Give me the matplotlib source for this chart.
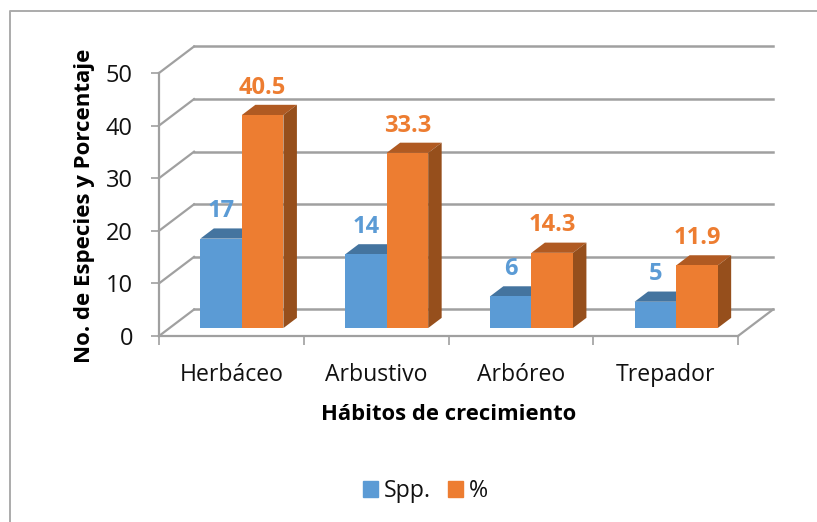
import matplotlib
matplotlib.use('Agg')
import matplotlib.pyplot as plt
from matplotlib.lines import Line2D
from matplotlib.patches import Patch
import numpy as np

# Data
categories = ['Herbáceo', 'Arbustivo', 'Arbóreo', 'Trepador']
spp = [17, 14, 6, 5]
pct = [40.5, 33.3, 14.3, 11.9]
spp_labels = ['17', '14', '6', '5']
pct_labels = ['40.5', '33.3', '14.3', '11.9']
yticks = [0, 10, 20, 30, 40, 50]

W, H = 817, 522
GRID = '#a0a0a0'
BLUE, BLUE_TOP = '#5b9bd5', '#44749f'
ORANGE, ORANGE_TOP, ORANGE_SIDE = '#ed7d31', '#b05a22', '#964f1c'

# Fake 3D: depth of the chart box, in data units
DX, DY = 0.242, 5.04
BAR_W = 0.287
D0, D1 = 0.30, 0.685  # front and back of the bars, as a share of the depth

plt.rcParams['font.family'] = ['Open Sans', 'DejaVu Sans']
fig = plt.figure(figsize=(W / 100, H / 100), dpi=100)
ax = fig.add_axes([159 / W, 1 - 336 / H, (738 - 159) / W, (336 - 73) / H])
ax.set_xlim(-0.5, 3.5)
ax.set_ylim(0, 50)
ax.patch.set_visible(False)

# outer frame of the chart: only the left and top edges show
fig.add_artist(Line2D([9.5 / W, 9.5 / W, 1], [0, 1 - 10.5 / H, 1 - 10.5 / H], transform=fig.transFigure,
                      color='#ababab', lw=1.4))

for s in ['top', 'right']:
    ax.spines[s].set_visible(False)
for s in ['left', 'bottom']:
    ax.spines[s].set_color(GRID)
    ax.spines[s].set_linewidth(1.6)

# back wall lines and the diagonals joining them to the front axis
for t in yticks:
    ax.plot([-0.5 + DX, 3.5 + DX], [t + DY, t + DY], color=GRID, lw=1.8, clip_on=False, zorder=1)
    ax.plot([-0.5, -0.5 + DX], [t, t + DY], color=GRID, lw=1.6, clip_on=False, zorder=1)
ax.plot([3.5, 3.5 + DX], [0, DY], color=GRID, lw=1.6, clip_on=False, zorder=1)


def draw_bar(x, v, face, top, side, z):
    x0 = x + D0 * DX
    y0 = D0 * DY
    ddx = (D1 - D0) * DX
    ddy = (D1 - D0) * DY
    ax.bar(x0, v, BAR_W, bottom=y0, align='edge', color=face, zorder=z + 0.2, clip_on=False)
    ax.fill([x0, x0 + BAR_W, x0 + BAR_W + ddx, x0 + ddx],
            [y0 + v, y0 + v, y0 + v + ddy, y0 + v + ddy], color=top, lw=0, zorder=z, clip_on=False)
    if side:
        ax.fill([x0 + BAR_W, x0 + BAR_W + ddx, x0 + BAR_W + ddx, x0 + BAR_W],
                [y0, y0 + ddy, y0 + v + ddy, y0 + v], color=side, lw=0, zorder=z, clip_on=False)


pos = np.arange(len(categories))
for i in pos:
    draw_bar(i - BAR_W, spp[i], BLUE, BLUE_TOP, None, 3)
    draw_bar(i, pct[i], ORANGE, ORANGE_TOP, ORANGE_SIDE, 4)
    ax.text(i - BAR_W / 2 + D0 * DX, D0 * DY + spp[i] + 5.2, spp_labels[i], color=BLUE,
            ha='center', va='center', fontsize=17, fontweight='bold', zorder=6)
    ax.text(i + BAR_W / 2 + D0 * DX, D0 * DY + pct[i] + 5.2, pct_labels[i], color=ORANGE,
            ha='center', va='center', fontsize=17, fontweight='bold', zorder=6)

# ticks on the category boundaries, names in between
ax.set_xticks(np.arange(-0.5, 4, 1))
ax.set_xticklabels([])
ax.set_xticks(pos, minor=True)
ax.set_xticklabels(categories, minor=True, fontsize=16.6, color='#111111')
ax.tick_params(axis='x', which='major', length=6.5, width=1.2, color=GRID)
ax.tick_params(axis='x', which='minor', length=0, pad=19.5)
ax.set_yticks(yticks)
ax.tick_params(axis='y', length=5.8, width=1.2, color=GRID, labelsize=17, labelcolor='#111111', pad=13)

ax.set_xlabel('Hábitos de crecimiento', fontsize=15.8, fontweight='bold')
ax.xaxis.set_label_coords((449 - 159) / (738 - 159), -(414 - 336) / (336 - 73), transform=ax.transAxes)
ax.xaxis.label.set_va('center')
ax.set_ylabel('No. de Especies y Porcentaje', fontsize=16, fontweight='bold')
ax.yaxis.set_label_coords((85 - 159) / (738 - 159), (336 - 206) / (336 - 73), transform=ax.transAxes)
ax.yaxis.label.set_va('center')

handles = [Patch(color=BLUE, label='Spp.'), Patch(color=ORANGE, label='%')]
fig.legend(handles=handles, ncol=2, frameon=False, loc='center', bbox_to_anchor=(425.5 / W, 1 - 491 / H),
           fontsize=16.7, handlelength=0.65, handleheight=0.65, handletextpad=0.26, columnspacing=0.73,
           labelcolor='#111111')

fig.savefig('out.png', dpi=100)
